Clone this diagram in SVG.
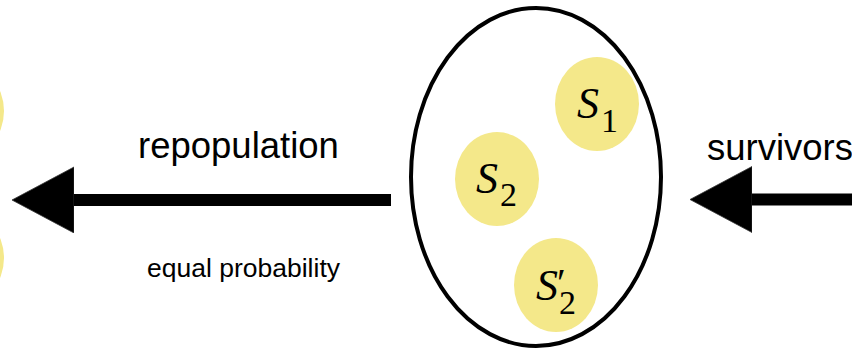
<svg xmlns="http://www.w3.org/2000/svg" width="852" height="352" viewBox="0 0 852 352">
<style>
.blob{fill:#F4E88A;stroke:none}
.lbl{font-family:"Liberation Sans",Arial,sans-serif;fill:#000}
.m{font-family:"Liberation Serif","Times New Roman",serif;fill:#000}
.it{font-style:italic;font-size:44px}
.sub{font-size:34px}
.shaft{stroke:#000;stroke-width:12;fill:none}
</style>
<defs>
<marker id="head" markerUnits="userSpaceOnUse" markerWidth="64" markerHeight="68" refX="0" refY="33" orient="auto" viewBox="0 0 64 68">
<path d="M0,0 L62,33 L0,66 Z" fill="#000" stroke="#333" stroke-width="0.8"/>
</marker>
</defs>
<g id="left-top"><ellipse class="blob" cx="-38" cy="111" rx="42" ry="47"/></g>
<g id="left-bottom"><ellipse class="blob" cx="-38" cy="258" rx="42" ry="47"/></g>
<g id="population">
<ellipse cx="536" cy="177" rx="125" ry="169" fill="#fff" stroke="#000" stroke-width="4"/>
</g>
<g id="S1">
<ellipse class="blob" cx="597" cy="104" rx="42" ry="47"/>
<text class="m" x="577" y="118"><tspan class="it">S</tspan><tspan class="sub" x="601" y="132">1</tspan></text>
</g>
<g id="S2">
<ellipse class="blob" cx="497" cy="179" rx="42" ry="47"/>
<text class="m" x="476" y="193"><tspan class="it">S</tspan><tspan class="sub" x="500" y="206">2</tspan></text>
</g>
<g id="S2prime">
<ellipse class="blob" cx="556" cy="285" rx="42" ry="47"/>
<text class="m" x="536" y="300"><tspan class="it">S</tspan><tspan x="557" y="296" font-size="40">′</tspan><tspan class="sub" x="559" y="314">2</tspan></text>
</g>
<g id="connectors">
<line class="shaft" x1="391" y1="200" x2="74" y2="200" marker-end="url(#head)"/>
<line class="shaft" x1="860" y1="199.5" x2="752" y2="199.5" marker-end="url(#head)"/>
</g>
<g id="labels">
<text class="lbl" x="138" y="158" font-size="36.5">repopulation</text>
<text class="lbl" x="147" y="277" font-size="26.5">equal probability</text>
<text class="lbl" x="707" y="160" font-size="36.5">survivors</text>
</g>
</svg>
